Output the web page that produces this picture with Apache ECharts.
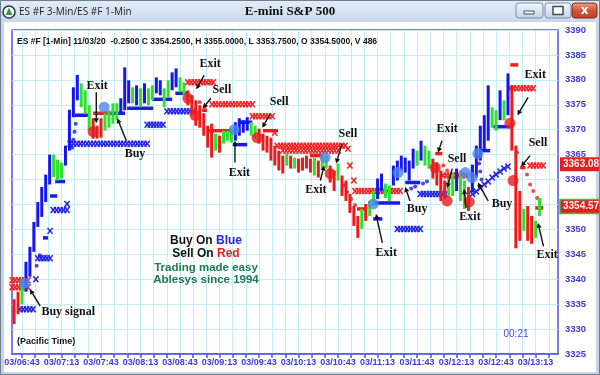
<!DOCTYPE html>
<html>
<head>
<meta charset="utf-8">
<script src="https://cdn.jsdelivr.net/npm/echarts@6/dist/echarts.min.js"></script>
<style>
  html, body { margin: 0; padding: 0; background: #c6d4e5; }
  #main { width: 600px; height: 375px; }
</style>
</head>
<body>
<div id="main"></div>
<script>
// ---- session layout: bar 0 opens at 06:37, three-minute bars ----
const sessionStart = 397;          // minutes after midnight
const barMinutes = 3;
const sessionDay = '03';

// ---- price bars (high / low / trend tone: b = blue, g = green, r = red) ----
const barHigh = [
  3336, 3337.5, 3340, 3343.5, 3346.5, 3351.5, 3355.5, 3358.5, 3361, 3365,
  3365, 3364, 3363.4, 3366.8, 3374, 3378.5, 3381, 3379.3, 3377.9, 3374.9,
  3372.3, 3370.8, 3372.3, 3373.3, 3373.9, 3375.3, 3375.3, 3376.3, 3382.5, 3379.9,
  3378.5, 3378.9, 3378.3, 3379.3, 3378.3, 3378.9, 3380.5, 3379.9, 3378.3, 3379.9,
  3381.5, 3382.3, 3380.5, 3379.5, 3377.9, 3376.9, 3375.9, 3374.9, 3373.3, 3370.8,
  3371.2, 3369.2, 3368.8, 3369.8, 3369.8, 3370.2, 3371.5, 3372.3, 3371.9, 3372.5,
  3371.5, 3370.8, 3370.2, 3369.2, 3368.8, 3368.4, 3366.8, 3365.8, 3364.8, 3365.2,
  3364.8, 3364.4, 3364.2, 3364.4, 3364.8, 3364.2, 3364.4, 3363.8, 3364.8, 3364.8,
  3362.8, 3361.8, 3363.2, 3360.8, 3359.8, 3357.1, 3354.7, 3352.7, 3354.1, 3355.1,
  3355.7, 3357.7, 3360.2, 3361.2, 3359.2, 3358.8, 3362.8, 3363.8, 3364.8, 3364.4,
  3363.8, 3366.2, 3365.8, 3367.8, 3366.8, 3365.8, 3364.2, 3363.4, 3361.8, 3359.8,
  3360.2, 3361.4, 3362.2, 3361.8, 3359.8, 3358.5, 3363, 3366.8, 3370.8, 3372.9,
  3378.9, 3374.5, 3373.9, 3377.9, 3375.9, 3381.3, 3378.9, 3366.8, 3357.7, 3354.1,
  3354.7, 3352.7, 3351.7, 3356.3
];
const barLow = [
  3331, 3333, 3335, 3337.5, 3340.5, 3345.5, 3350.5, 3352.5, 3355.5, 3359,
  3360.5, 3359.8, 3360.2, 3362.8, 3365.8, 3372.5, 3375.9, 3374.5, 3373.3, 3369.8,
  3368.2, 3368.2, 3368.4, 3369.8, 3370.4, 3371.2, 3371.9, 3373.3, 3373.9, 3375.3,
  3375.3, 3374.9, 3374.5, 3375.3, 3374.9, 3375.9, 3377.3, 3376.9, 3374.5, 3376.5,
  3377.9, 3378.5, 3377.5, 3376.9, 3374.9, 3372.9, 3370.8, 3370.4, 3368.8, 3366.4,
  3364.4, 3365.8, 3365.4, 3367.2, 3367.8, 3367.4, 3367.8, 3368.8, 3369.4, 3369.8,
  3368.8, 3368.2, 3367.2, 3365.8, 3365.4, 3363.8, 3362.8, 3361.8, 3361.2, 3362.8,
  3362.2, 3362.2, 3361.4, 3361.8, 3362.2, 3361.4, 3360.8, 3360.4, 3362.2, 3362.2,
  3359.4, 3357.7, 3359.8, 3356.7, 3355.7, 3353.3, 3350.7, 3348.3, 3350.1, 3351.7,
  3352.7, 3354.7, 3356.1, 3357.7, 3356.3, 3355.7, 3358.8, 3359.8, 3361.8, 3361.4,
  3359.8, 3362.2, 3362.8, 3363.8, 3362.8, 3362.2, 3360.2, 3358.8, 3355.7, 3356.1,
  3356.7, 3356.7, 3357.7, 3355.7, 3354.1, 3353.7, 3357.5, 3360.4, 3363.8, 3365.8,
  3367.8, 3370.4, 3369.8, 3371.9, 3371.9, 3372.9, 3365.8, 3346.2, 3347.7, 3349.7,
  3347.7, 3347.1, 3348.3, 3352.7
];
const barTone =
  'rrgbbbbbbb' + 'gggbbbbggg' + 'rrrggggbbb' + 'gbgbggbbgg' + 'bbggrrrrrr' +
  'rgrgggbbbb' + 'ggrrrrrrrg' + 'rgrrrrgrgg' + 'rrgrrrrrgr' + 'ggbbggbbbb' +
  'bbgbggrrrr' + 'ggbggrbbbb' + 'bggbgbrrrg' + 'rrgg';

// ---- trailing stops, in bar units: [fromBar, toBar, fromPrice, toPrice] ----
const longStopCrosses = [
  [1.5, 4.8, 3334, 3334], [5.5, 5.5, 3340, 3340], [6, 9.1, 3344.2, 3344.2],
  [9.1, 9.1, 3349.7, 3349.7], [9.9, 13.4, 3353.9, 3353.9], [13.4, 13.4, 3355.1, 3355.1],
  [14.2, 33.7, 3367.2, 3367.2], [33.7, 37.7, 3371, 3371], [38.7, 45.3, 3373.7, 3373.7],
  [97, 102.8, 3350.1, 3350.1], [102.8, 109.1, 3357.1, 3357.1],
  [116, 116, 3357.1, 3357.1], [117, 117, 3357.6, 3357.6], [118, 118, 3358.3, 3358.3],
  [119, 119, 3359, 3359], [120, 120, 3359.6, 3359.6], [121, 121, 3360.4, 3360.4],
  [122, 122, 3361, 3361], [123, 123, 3361.6, 3361.6], [124, 124, 3362.2, 3362.2],
  [125, 125, 3362.6, 3362.6]
];
const shortStopCrosses = [
  [-0.5, 3.5, 3339.8, 3339.8], [-0.5, 3.5, 3338.4, 3338.4],
  [44, 50.4, 3379.5, 3379.5], [50.1, 60.3, 3375.1, 3375.1], [60.3, 65.3, 3372.7, 3372.7],
  [66, 66, 3369.4, 3369.4], [66.6, 83.8, 3366.8, 3366.8], [68, 82, 3365.8, 3365.8],
  [84.5, 84.5, 3366.2, 3366.2], [85, 85, 3362.8, 3362.8], [86, 86, 3359.8, 3359.8],
  [86.3, 97.7, 3357.7, 3357.7], [108.6, 114.2, 3360.8, 3360.8],
  [125.6, 131.4, 3378.3, 3378.3], [130.6, 133.9, 3362.8, 3362.8]
];
// solid stop dashes: [fromBar, toBar, price]
const longStopDashes = [
  [7.3, 8.6, 3348.3], [9.1, 10.9, 3356.7], [10.4, 12.9, 3359.6], [15.4, 19.2, 3372.9],
  [24.3, 28.1, 3373.3], [28.6, 35.2, 3374.3], [35, 40, 3376.1], [40.8, 44, 3377.3],
  [55.4, 59, 3367], [56.7, 60.3, 3371.5], [90.9, 97.7, 3355.3], [90.9, 93.2, 3352.1],
  [99, 102.8, 3359.4], [118, 120.5, 3365.8], [121.3, 125.6, 3370.6]
];
const shortStopDashes = [
  [20, 24.3, 3373.3], [47.6, 48.8, 3373.9], [48.9, 55.4, 3369.8], [63, 66.8, 3369.8],
  [74.9, 78.2, 3364.8], [86.8, 89.4, 3354.1], [106.6, 108.4, 3365.2],
  [125.6, 127.6, 3383], [128.1, 129.4, 3362.4], [131.9, 133.9, 3354.3]
];
// stop dots: [bar, price]
const longStopDots = [
  [5.7, 3342.7], [6.5, 3344.8], [14.7, 3366.4], [15, 3368], [15.3, 3369.6], [15.6, 3371.2],
  [100.5, 3358.2], [101.5, 3358.6], [103.5, 3359.2], [104.5, 3359.6],
  [117.4, 3364.6], [117.7, 3363.2], [118, 3361.6], [118.3, 3360]
];
const shortStopDots = [
  [47, 3375.5], [48.2, 3374.6], [83.5, 3358.8], [84.3, 3357.5], [85.3, 3356.1], [86.3, 3354.9],
  [108.6, 3362.8], [109.6, 3361.8], [110.9, 3361], [127.3, 3365.4], [129.8, 3361],
  [130.6, 3359], [131.4, 3357.7], [132.4, 3356.3], [133, 3355.9]
];

// ---- entry / exit signal dots: [bar, price] ----
const buySignals = [
  [2.7, 3339.2], [22.8, 3374.5], [55.7, 3370], [78.7, 3364.4], [90.9, 3355.1],
  [97.2, 3361.4], [114.2, 3361.4], [115.9, 3360.4], [117.4, 3365.2]
];
const sellSignals = [
  [20, 3369.6], [44, 3376.3], [45.8, 3372.9], [61.5, 3368.4], [80, 3361.2],
  [106.6, 3362.4], [109.6, 3355.7], [115.2, 3355.5], [125.5, 3371.3], [126.3, 3359.8]
];

// ---- callouts: label text, label point, arrow tail, arrow head ----
const noteText = ['Exit', 'Buy', 'Buy signal', 'Exit', 'Sell', 'Sell', 'Exit', 'Sell', 'Exit',
  'Exit', 'Buy', 'Exit', 'Sell', 'Exit', 'Buy', 'Exit', 'Sell', 'Exit'];
const noteAt = [[21, 3378.7], [30.6, 3365.2], [13.7, 3333.5], [49.6, 3383.1], [52.6, 3377.9],
  [67.1, 3375.5], [57, 3361.4], [84.5, 3369.2], [76.4, 3357.9], [94.2, 3345.2], [102, 3354.1],
  [109.6, 3370.2], [112.1, 3364.2], [115.4, 3352.5], [123.5, 3355.1], [131.9, 3380.9],
  [132.6, 3367.4], [134.9, 3344.8]];
const arrowFrom = [[20.8, 3377.5], [28.4, 3367.8], [6.6, 3334.6], [48.1, 3380.9], [49.8, 3376.3],
  [64.8, 3373.1], [55.9, 3363.4], [83, 3367.2], [77.5, 3359.8], [93.2, 3347.3], [100.2, 3355.7],
  [108.3, 3367.8], [110.9, 3362.2], [114.4, 3354.3], [120, 3355.7], [130.1, 3376.5],
  [130.6, 3364.8], [134, 3346.6]];
const arrowTo = [[20.8, 3371.3], [26.1, 3372.3], [4, 3338], [46.1, 3378.1], [47.8, 3374.3],
  [62.8, 3370.4], [55.9, 3367.8], [81.5, 3363.2], [78.5, 3362.8], [91.6, 3353.1], [99, 3358.5],
  [107.3, 3365.4], [109.6, 3358.3], [113.9, 3358.1], [117.4, 3359.4], [127.4, 3372.9],
  [128.3, 3362.6], [132.6, 3351.3]];

// ---- price tags on the scale ----
const tagPrices = [3363.08, 3354.57];

// ---- axis ticks ----
const tickEveryMinutes = 10;
const labelTimes = ['06:43', '07:13', '07:43', '08:13', '08:43', '09:13', '09:43',
  '10:13', '10:43', '11:13', '11:43', '12:13', '12:43', '13:13'];
const priceMin = 3325, priceMax = 3390, priceStep = 5;

const headerLine = 'ES #F [1-Min] 11/03/20  -0.2500 C 3354.2500, H 3355.0000, L 3353.7500, O 3354.5000, V 486';

// ---------------------------------------------------------------
const BLUE = '#1515ee', GREEN = '#2fe02f', RED = '#ee1a1a';
const toneColor = { b: BLUE, g: GREEN, r: RED };
const toMin = s => { const [h, m] = s.split(':').map(Number); return h * 60 + m; };
const minToBar = m => (m - sessionStart) / barMinutes;
const barToLabel = v => {
  const t = Math.round(sessionStart + v * barMinutes);
  const h = Math.floor(t / 60), m = t % 60;
  return sessionDay + '/' + String(h).padStart(2, '0') + ':' + String(m).padStart(2, '0');
};
const firstTick = toMin(labelTimes[0]);
const tickBars = [];
for (let t = firstTick; t <= toMin('13:23'); t += tickEveryMinutes) tickBars.push(minToBar(t));
const labelBars = labelTimes.map(s => minToBar(toMin(s)));

function crossRenderer(color) {
  return function (params, api) {
    const a = api.coord([api.value(0), api.value(2)]);
    const b = api.coord([api.value(1), api.value(3)]);
    const n = Math.max(0, Math.round((b[0] - a[0]) / 3.3));
    const kids = [];
    for (let k = 0; k <= n; k++) {
      const f = n === 0 ? 0 : k / n;
      const cx = a[0] + (b[0] - a[0]) * f, cy = a[1] + (b[1] - a[1]) * f;
      kids.push({ type: 'line', shape: { x1: cx - 2.6, y1: cy - 3, x2: cx + 2.6, y2: cy + 3 },
        style: { stroke: color, lineWidth: 1.5 } });
      kids.push({ type: 'line', shape: { x1: cx - 2.6, y1: cy + 3, x2: cx + 2.6, y2: cy - 3 },
        style: { stroke: color, lineWidth: 1.5 } });
    }
    return { type: 'group', children: kids };
  };
}
function dashRenderer(color) {
  return function (params, api) {
    const a = api.coord([api.value(0), api.value(2)]);
    const b = api.coord([api.value(1), api.value(2)]);
    return { type: 'line', shape: { x1: a[0], y1: a[1], x2: b[0], y2: b[1] },
      style: { stroke: color, lineWidth: 3.5 } };
  };
}

const chart = echarts.init(document.getElementById('main'), null, { renderer: 'canvas' });

const option = {
  animation: false,
  backgroundColor: '#c6d4e5',
  grid: {
    left: 12, right: 42, top: 30, bottom: 21,
    show: true, backgroundColor: '#ffffff', borderColor: '#5252e2', borderWidth: 1.5,
    outerBoundsMode: 'none'
  },
  xAxis: {
    type: 'value', min: minToBar(395.4), max: minToBar(810),
    axisLine: { show: true, lineStyle: { color: '#5252e2', width: 1.5 } },
    axisTick: { show: true, customValues: tickBars, length: 4, lineStyle: { color: '#5252e2', width: 1.5 } },
    axisLabel: { customValues: labelBars, formatter: barToLabel, color: '#3b3bd8',
      fontFamily: 'Liberation Sans, Arial, sans-serif', fontWeight: 'bold', fontSize: 9, margin: 4 },
    splitLine: { show: true, lineStyle: { color: '#c2eef7', width: 1 } }
  },
  yAxis: {
    type: 'value', position: 'right', min: priceMin, max: priceMax, interval: priceStep,
    axisLine: { show: false }, axisTick: { show: false },
    axisLabel: { color: '#3b3bd8', fontFamily: 'Liberation Sans, Arial, sans-serif',
      fontWeight: 'bold', fontSize: 9.5, margin: 7, formatter: v => String(v) },
    splitLine: { show: true, lineStyle: { color: '#c2eef7', width: 1 } }
  },
  series: [
    { // long stop crosses
      type: 'custom', renderItem: crossRenderer('#2222e6'), data: longStopCrosses,
      encode: { x: [0, 1], y: [2, 3] }, z: 3
    },
    {
      type: 'custom', renderItem: crossRenderer('#f02222'), data: shortStopCrosses,
      encode: { x: [0, 1], y: [2, 3] }, z: 3
    },
    {
      type: 'custom', renderItem: dashRenderer('#1a1aea'), data: longStopDashes,
      encode: { x: [0, 1], y: 2 }, z: 3
    },
    {
      type: 'custom', renderItem: dashRenderer('#ee1c1c'), data: shortStopDashes,
      encode: { x: [0, 1], y: 2 }, z: 3
    },
    { type: 'scatter', data: longStopDots, symbolSize: 4, itemStyle: { color: '#1a1aea' }, z: 3 },
    { type: 'scatter', data: shortStopDots, symbolSize: 4, itemStyle: { color: '#ee1c1c' }, z: 3 },
    { // price bars
      type: 'custom',
      data: barHigh.map((h, i) => [i, h, barLow[i]]),
      encode: { x: 0, y: [1, 2] },
      renderItem: function (params, api) {
        const top = api.coord([api.value(0), api.value(1)]);
        const bot = api.coord([api.value(0), api.value(2)]);
        return { type: 'rect', shape: { x: top[0] - 1.5, y: top[1], width: 3, height: bot[1] - top[1] },
          style: { fill: toneColor[barTone[params.dataIndex]] } };
      },
      z: 4
    },
    { type: 'scatter', data: buySignals, symbolSize: 11, itemStyle: { color: '#4d86ee' }, z: 5 },
    { type: 'scatter', data: sellSignals, symbolSize: 11, itemStyle: { color: '#ee1c1c' }, z: 5 },
    { // callout arrows
      type: 'custom', z: 6,
      data: arrowFrom.map((p, i) => [p[0], p[1], arrowTo[i][0], arrowTo[i][1]]),
      encode: { x: [0, 2], y: [1, 3] },
      renderItem: function (params, api) {
        const a = api.coord([api.value(0), api.value(1)]);
        const b = api.coord([api.value(2), api.value(3)]);
        const ang = Math.atan2(b[1] - a[1], b[0] - a[0]);
        const hl = 5, hw = 2.6;
        const bx = b[0] - hl * Math.cos(ang), by = b[1] - hl * Math.sin(ang);
        const px = -Math.sin(ang) * hw, py = Math.cos(ang) * hw;
        return { type: 'group', children: [
          { type: 'line', shape: { x1: a[0], y1: a[1], x2: bx, y2: by }, style: { stroke: '#111', lineWidth: 1.4 } },
          { type: 'polygon', shape: { points: [[b[0], b[1]], [bx + px, by + py], [bx - px, by - py]] },
            style: { fill: '#111' } }
        ] };
      }
    },
    { // callout labels
      type: 'custom', z: 7,
      data: noteAt, encode: { x: 0, y: 1 },
      renderItem: function (params, api) {
        const p = api.coord([api.value(0), api.value(1)]);
        return { type: 'text', x: p[0], y: p[1],
          style: { text: noteText[params.dataIndex], fill: '#111', align: 'center', verticalAlign: 'middle',
            font: 'bold 12px "Liberation Serif", "Times New Roman", serif' } };
      }
    },
    { // price tags on the scale
      type: 'custom', z: 8, clip: false,
      data: tagPrices.map(v => [0, v]), encode: { y: 1 },
      renderItem: function (params, api) {
        const cs = params.coordSys;
        const p = api.coord([0, api.value(1)]);
        const x0 = cs.x + cs.width + 2;
        const last = params.dataIndex === tagPrices.length - 1;
        return { type: 'group', children: [
          { type: 'rect', shape: { x: x0, y: p[1] - 7, width: 44, height: 14 },
            style: { fill: '#e41f1f', stroke: last ? '#3fbf3f' : null, lineWidth: last ? 1.5 : 0 } },
          { type: 'text', x: x0 + 3, y: p[1],
            style: { text: tagPrices[params.dataIndex].toFixed(2), fill: '#f4f4f4', verticalAlign: 'middle',
              font: 'bold 10px "Liberation Sans", Arial, sans-serif' } }
        ] };
      }
    }
  ],
  graphic: [
    // window title bar
    { type: 'rect', shape: { x: 0, y: 0, width: 600, height: 22 }, z: 0,
      style: { fill: new echarts.graphic.LinearGradient(0, 0, 0, 1, [
        { offset: 0, color: '#e4edf8' }, { offset: 1, color: '#c9d8ea' }]) } },
    { type: 'rect', shape: { x: 4, y: 22, width: 592, height: 350 }, z: -1,
      style: { fill: '#ffffff' } },
    { type: 'rect', shape: { x: 0.5, y: 0.5, width: 599, height: 374 }, z: 100,
      style: { fill: null, stroke: '#6f7f92', lineWidth: 1 } },
    { type: 'circle', shape: { cx: 9, cy: 12, r: 6 }, z: 10,
      style: { fill: '#ffffff', stroke: '#2d3b4b', lineWidth: 1.6 } },
    { type: 'polygon', shape: { points: [[9, 7.5], [12.5, 15], [5.5, 15]] }, z: 11,
      style: { fill: '#2e9e3a' } },
    { type: 'text', x: 19, y: 12, z: 10,
      style: { text: 'ES #F 3-Min/ES #F 1-Min', fill: '#1c1c1c', verticalAlign: 'middle',
        font: '10px "Open Sans", "DejaVu Sans", sans-serif' } },
    { type: 'text', x: 290, y: 12, z: 10,
      style: { text: 'E-mini S&P 500', fill: '#111', align: 'center', verticalAlign: 'middle',
        font: 'bold 13px "Liberation Serif", "Times New Roman", serif' } },
    // caption buttons
    { type: 'rect', shape: { x: 516, y: 3, width: 27, height: 15, r: 3 }, z: 10,
      style: { fill: new echarts.graphic.LinearGradient(0, 0, 0, 1, [
        { offset: 0, color: '#f2f6fb' }, { offset: 1, color: '#c3d3e6' }]), stroke: '#7d8fa6', lineWidth: 1 } },
    { type: 'rect', shape: { x: 524, y: 11, width: 10, height: 3 }, z: 11,
      style: { fill: '#ffffff', stroke: '#3c4c60', lineWidth: 1 } },
    { type: 'rect', shape: { x: 545, y: 3, width: 26, height: 15, r: 3 }, z: 10,
      style: { fill: new echarts.graphic.LinearGradient(0, 0, 0, 1, [
        { offset: 0, color: '#f2f6fb' }, { offset: 1, color: '#c3d3e6' }]), stroke: '#7d8fa6', lineWidth: 1 } },
    { type: 'rect', shape: { x: 553, y: 6.5, width: 10, height: 8 }, z: 11,
      style: { fill: '#ffffff', stroke: '#3c4c60', lineWidth: 1.5 } },
    { type: 'rect', shape: { x: 572, y: 3, width: 25, height: 15, r: 3 }, z: 10,
      style: { fill: new echarts.graphic.LinearGradient(0, 0, 0, 1, [
        { offset: 0, color: '#e9a28f' }, { offset: 0.5, color: '#d1553c' }, { offset: 1, color: '#c0402a' }]),
        stroke: '#7a2a1e', lineWidth: 1 } },
    { type: 'text', x: 584.5, y: 10.5, z: 11,
      style: { text: 'x', fill: '#ffffff', align: 'center', verticalAlign: 'middle',
        font: 'bold 12px "DejaVu Sans", sans-serif' } },
    // chart header and notes
    { type: 'text', x: 17, y: 42, z: 20,
      style: { text: headerLine, fill: '#111', verticalAlign: 'middle',
        font: 'bold 8.5px "Liberation Sans", Arial, sans-serif' } },
    { type: 'text', x: 17, y: 342, z: 20,
      style: { text: '(Pacific Time)', fill: '#111', verticalAlign: 'middle',
        font: 'bold 9px "Liberation Sans", Arial, sans-serif' } },
    { type: 'text', x: 516, y: 334, z: 20,
      style: { text: '00:21', fill: '#4a4ae0', align: 'center', verticalAlign: 'middle',
        font: '10px "Liberation Sans", Arial, sans-serif' } },
    { type: 'text', x: 206, y: 241, z: 20,
      style: { text: 'Buy On {b|Blue}', fill: '#111', align: 'center', verticalAlign: 'middle',
        font: 'bold 12px "Liberation Sans", Arial, sans-serif',
        rich: { b: { fill: '#2424e8', font: 'bold 12px "Liberation Sans", Arial, sans-serif' } } } },
    { type: 'text', x: 206, y: 254, z: 20,
      style: { text: 'Sell On {r|Red}', fill: '#111', align: 'center', verticalAlign: 'middle',
        font: 'bold 12px "Liberation Sans", Arial, sans-serif',
        rich: { r: { fill: '#f02020', font: 'bold 12px "Liberation Sans", Arial, sans-serif' } } } },
    { type: 'text', x: 206, y: 268, z: 20,
      style: { text: 'Trading made easy', fill: '#1d7a52', align: 'center', verticalAlign: 'middle',
        font: 'bold 11.5px "Liberation Sans", Arial, sans-serif' } },
    { type: 'text', x: 206, y: 280, z: 20,
      style: { text: 'Ablesys since 1994', fill: '#1d7a52', align: 'center', verticalAlign: 'middle',
        font: 'bold 11.5px "Liberation Sans", Arial, sans-serif' } }
  ]
};

chart.setOption(option);
</script>
</body>
</html>
